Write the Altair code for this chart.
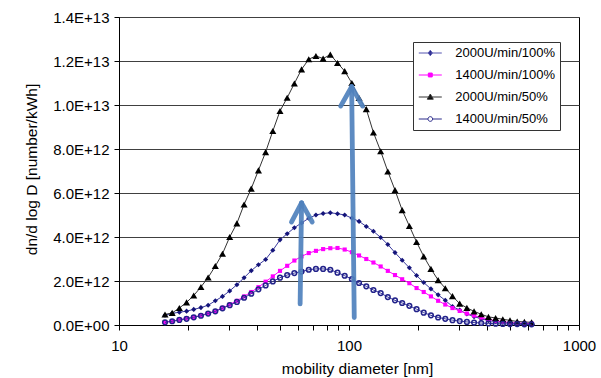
import altair as alt
import pandas as pd

# ---------------- data ----------------
diameter_nm = [15.85, 17.03, 18.30, 19.67, 21.13, 22.71, 24.41, 26.23, 28.18, 30.29,
               32.55, 34.98, 37.58, 40.39, 43.40, 46.64, 50.12, 53.86, 57.87, 62.19,
               66.84, 71.82, 77.18, 82.94, 89.13, 95.78, 102.9, 110.6, 118.9, 127.7,
               137.3, 147.5, 158.5, 170.3, 183.0, 196.7, 211.3, 227.1, 244.1, 262.2,
               281.8, 302.9, 325.5, 349.8, 375.8, 403.9, 434.0, 466.4, 501.2, 538.6,
               578.8, 622.0]

# values in units of 1E+12 number/kWh
n2000_100 = [0.44, 0.53, 0.58, 0.63, 0.71, 0.79, 0.90, 1.10, 1.30, 1.55,
             1.83, 2.15, 2.47, 2.74, 2.98, 3.40, 3.87, 4.15, 4.42, 4.64,
             4.85, 5.00, 5.07, 5.10, 5.06, 5.00, 4.86, 4.71, 4.48, 4.26,
             3.98, 3.66, 3.29, 2.94, 2.60, 2.25, 1.93, 1.64, 1.37, 1.12,
             0.84, 0.68, 0.50, 0.38, 0.28, 0.20, 0.15, 0.12, 0.09, 0.07,
             0.06, 0.05]
n1400_100 = [0.13, 0.18, 0.24, 0.30, 0.36, 0.44, 0.54, 0.63, 0.78, 0.93,
             1.10, 1.30, 1.50, 1.72, 1.97, 2.21, 2.46, 2.69, 2.93, 3.12,
             3.27, 3.37, 3.45, 3.49, 3.50, 3.43, 3.31, 3.16, 3.00, 2.84,
             2.66, 2.46, 2.27, 2.08, 1.90, 1.68, 1.50, 1.30, 1.10, 0.93,
             0.77, 0.64, 0.52, 0.43, 0.34, 0.26, 0.19, 0.15, 0.11, 0.09,
             0.08, 0.07]
n2000_50 = [0.48, 0.55, 0.77, 1.03, 1.34, 1.73, 2.16, 2.68, 3.24, 4.00,
            4.62, 5.48, 6.20, 7.03, 7.86, 8.82, 9.73, 10.33, 10.98, 11.62,
            12.08, 12.23, 12.11, 12.29, 11.91, 11.54, 11.00, 10.32, 9.81, 8.75,
            7.90, 6.98, 6.13, 5.22, 4.50, 3.77, 3.12, 2.55, 2.04, 1.67,
            1.31, 0.97, 0.78, 0.62, 0.49, 0.37, 0.32, 0.26, 0.21, 0.16,
            0.14, 0.12]
n1400_50 = [0.12, 0.17, 0.23, 0.28, 0.35, 0.42, 0.52, 0.62, 0.76, 0.90,
            1.05, 1.24, 1.42, 1.62, 1.80, 1.98, 2.15, 2.27, 2.36, 2.43,
            2.51, 2.55, 2.55, 2.51, 2.38, 2.24, 2.09, 1.91, 1.76, 1.59,
            1.45, 1.27, 1.12, 1.00, 0.87, 0.72, 0.56, 0.44, 0.34, 0.28,
            0.22, 0.18, 0.14, 0.11, 0.09, 0.07, 0.06, 0.05, 0.04, 0.04,
            0.03, 0.03]

series_names = ["2000U/min/100%", "1400U/min/100%", "2000U/min/50%", "1400U/min/50%"]
series_values = [n2000_100, n1400_100, n2000_50, n1400_50]

# annotation arrows (data units: nm, number/kWh) -- shafts then head arms
arrow_from_d = [61.3, 105.4, 62.2, 62.2, 102.7, 102.7]
arrow_from_v = [0.96e12, 0.34e12, 5.55e12, 5.55e12, 10.83e12, 10.83e12]
arrow_to_d = [62.2, 102.7, 56.2, 69.2, 92.0, 114.6]
arrow_to_v = [5.55e12, 10.83e12, 4.68e12, 4.68e12, 9.95e12, 9.95e12]

x_ticks = [10, 20, 30, 40, 50, 60, 70, 80, 90, 100, 200, 300, 400, 500, 600, 700, 800, 900, 1000]
y_ticks = [0, 2e12, 4e12, 6e12, 8e12, 1e13, 1.2e13, 1.4e13]

# ---------------- tables ----------------
rows = []
for name, vals in zip(series_names, series_values):
    for d, v in zip(diameter_nm, vals):
        rows.append({"series": name, "d": d, "v": v * 1e12})
df = pd.DataFrame(rows)

arrow_df = pd.DataFrame({"d": arrow_from_d, "v": arrow_from_v,
                         "d2": arrow_to_d, "v2": arrow_to_v})

# ---------------- styles ----------------
FONT = "Liberation Sans"
line_colors = ["#3A3A9E", "#FF00FF", "#333333", "#3A3A9E"]
marker_colors = ["#14147A", "#FF00FF", "#000000", "#22228A"]
marker_shapes = ["diamond", "square", "triangle-up", "circle"]
marker_filled = [True, True, True, False]
marker_sizes = [26, 17, 50, 22]
marker_strokes = [1.2, 1.2, 1.2, 1.5]

L = 1.77
legend_paths = [
    f"M-{L},0L{L},0M0,-0.42L0.32,0L0,0.42L-0.32,0Z",
    f"M-{L},0L{L},0M-0.3,-0.3L0.3,-0.3L0.3,0.3L-0.3,0.3Z",
    f"M-{L},0L{L},0M0,-0.46L0.46,0.34L-0.46,0.34Z",
    f"M-{L},0L-0.36,0M0.36,0L{L},0M0.36,0A0.36,0.36,0,1,1,-0.36,0A0.36,0.36,0,1,1,0.36,0Z",
]
legend_strokes = ["#5555B0", "#FF00FF", "#333333", "#2A2A8A"]
legend_fills = ["#14147A", "#FF00FF", "#000000", "#FFFFFF"]

x_enc = alt.X(
    "d:Q",
    title="mobility diameter [nm]",
    scale=alt.Scale(type="log", domain=[10, 1000], nice=False),
    axis=alt.Axis(
        values=x_ticks,
        labelExpr="datum.value == 10 || datum.value == 100 || datum.value == 1000 ? format(datum.value, 'd') : ''",
        grid=False,
        labelFlush=False,
        labelOverlap=False,
        labelPadding=8,
        tickSize=5,
        titleX=238,
        titleY=48,
        titleBaseline="alphabetic",
    ),
)
y_enc = alt.Y(
    "v:Q",
    title="dn/d log D [number/kWh]",
    scale=alt.Scale(domain=[0, 1.4e13], nice=False, zero=True),
    axis=alt.Axis(
        values=y_ticks,
        labelExpr="datum.value == 0 ? '0.0E+00' : replace(format(datum.value, '.1e'), 'e', 'E')",
        grid=True,
        gridColor="#404040",
        gridWidth=1,
        labelFlush=False,
        labelOverlap=False,
        labelPadding=5,
        tickSize=5,
        titleX=-83,
        titleY=152,
        titleBaseline="alphabetic",
    ),
)

base = alt.Chart(df)
layers = []
for i, name in enumerate(series_names):
    sub = base.transform_filter(alt.datum.series == name)
    layers.append(
        sub.mark_line(color=line_colors[i], strokeWidth=1).encode(x=x_enc, y=y_enc)
    )
    layers.append(
        sub.mark_point(
            shape=marker_shapes[i],
            filled=marker_filled[i],
            color=marker_colors[i],
            size=marker_sizes[i],
            opacity=1,
            strokeWidth=marker_strokes[i],
        ).encode(x=x_enc, y=y_enc)
    )

leg = alt.Legend(
    title=None,
    orient="none",
    legendX=294,
    legendY=25,
    padding=4,
    strokeColor="#333333",
    fillColor="white",
    labelFont=FONT,
    labelFontSize=13,
    labelColor="black",
    symbolSize=169,
    symbolStrokeWidth=1,
    symbolOffset=6.3,
    labelOffset=18,
    rowPadding=8,
    symbolOpacity=1,
)

legend_layer = base.transform_filter("datum.v < 0").mark_point(filled=True, opacity=1, size=169).encode(
    x=x_enc,
    y=y_enc,
    shape=alt.Shape("series:N", scale=alt.Scale(domain=series_names, range=legend_paths), legend=leg),
    stroke=alt.Stroke("series:N", scale=alt.Scale(domain=series_names, range=legend_strokes), legend=leg),
    fill=alt.Fill("series:N", scale=alt.Scale(domain=series_names, range=legend_fills), legend=leg),
)

arrows = alt.Chart(arrow_df).mark_rule(
    color="#4F81BD", strokeWidth=4.8, strokeCap="round", opacity=0.92
).encode(x=x_enc, x2=alt.X2("d2"), y=y_enc, y2=alt.Y2("v2"))

chart = (
    alt.layer(*layers, legend_layer, arrows)
    .properties(
        width=460,
        height=308,
        autosize=alt.AutoSizeParams(type="none"),
        padding={"left": 119, "top": 17, "right": 22, "bottom": 53},
        background="white",
    )
    .configure_view(stroke="black", strokeWidth=1)
    .configure_axis(
        domainColor="black",
        domainWidth=1,
        tickColor="black",
        labelFont=FONT,
        labelFontSize=15,
        labelColor="black",
        titleFont=FONT,
        titleFontSize=15.5,
        titleFontWeight="normal",
        titleColor="black",
    )
)

chart.save("out.html", embed_options={"renderer": "svg", "actions": False})
